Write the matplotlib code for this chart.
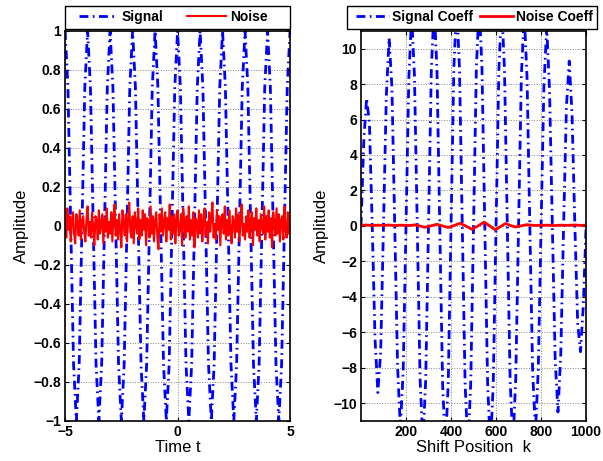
import numpy as np
import matplotlib
matplotlib.use("Agg")
import matplotlib.pyplot as plt
from matplotlib.patches import Rectangle

plt.rcParams['font.family'] = ['Liberation Sans', 'DejaVu Sans']
plt.rcParams['font.weight'] = 'bold'
plt.rcParams['axes.unicode_minus'] = True

# ---- left panel: time signal and additive noise ----
signal_t = np.linspace(-5, 5, 81)
signal_amp = [
    1.00, 0.71, 0.00, -0.71, -1.00, -0.71, 0.00, 0.71,
    1.00, 0.71, 0.00, -0.71, -1.00, -0.71, 0.00, 0.71,
    1.00, 0.71, 0.00, -0.71, -1.00, -0.71, 0.00, 0.71,
    1.00, 0.71, 0.00, -0.71, -1.00, -0.71, 0.00, 0.71,
    1.00, 0.71, 0.00, -0.71, -1.00, -0.71, 0.00, 0.71,
    1.00, 0.71, 0.00, -0.71, -1.00, -0.71, 0.00, 0.71,
    1.00, 0.71, 0.00, -0.71, -1.00, -0.71, 0.00, 0.71,
    1.00, 0.71, 0.00, -0.71, -1.00, -0.71, 0.00, 0.71,
    1.00, 0.71, 0.00, -0.71, -1.00, -0.71, 0.00, 0.71,
    1.00, 0.71, 0.00, -0.71, -1.00, -0.71, 0.00, 0.71,
    1.00,
]

noise_amp = [
    0.04, -0.06, 0.09, -0.02, 0.05, -0.08, 0.03, 0.07, -0.04, -0.09, 0.06, 0.01, -0.05, 0.08, -0.07, 0.02, 0.05, -0.03, -0.08, 0.04,
    0.10, -0.05, 0.02, -0.06, 0.07, -0.02, -0.10, 0.05, 0.03, -0.07, 0.08, -0.04, 0.01, 0.06, -0.09, 0.04, -0.03, 0.09, -0.06, 0.02,
    -0.04, 0.07, -0.08, 0.05, 0.11, -0.05, 0.03, -0.07, 0.06, -0.02, -0.11, 0.08, 0.02, -0.05, 0.06, -0.08, 0.04, 0.12, -0.03, -0.06,
    0.05, -0.09, 0.07, 0.01, -0.04, 0.09, -0.07, 0.03, -0.05, 0.08, -0.02, 0.06, -0.10, 0.04, 0.02, -0.06, 0.10, -0.04, 0.05, -0.08,
    0.03, 0.07, -0.06, -0.12, 0.06, -0.03, 0.09, -0.05, 0.02, 0.07, -0.08, 0.04, -0.02, 0.11, -0.07, 0.05, -0.04, 0.06, -0.09, 0.03,
    0.08, -0.05, -0.02, 0.06, -0.10, 0.09, 0.01, -0.06, 0.05, -0.03, 0.10, -0.07, 0.03, -0.05, 0.07, -0.11, 0.04, 0.02, -0.06, 0.08,
    -0.04, 0.06, -0.08, 0.03, 0.09, -0.05, 0.02, -0.09, 0.07, -0.03, 0.05, 0.12, -0.06, 0.01, -0.07, 0.08, -0.02, 0.05, -0.10, 0.04,
    0.06, -0.04, 0.10, -0.07, 0.03, -0.05, 0.08, -0.02, -0.09, 0.05, 0.02, -0.06, 0.09, -0.03, 0.06, -0.08, 0.04, 0.11, -0.05, 0.01,
    -0.07, 0.05, -0.03, 0.08, -0.06, 0.02, 0.07, -0.10, 0.04, -0.02, 0.09, -0.05, 0.03, -0.08, 0.06, 0.01, -0.04, 0.10, -0.07, 0.05,
    -0.03, 0.08, -0.06, 0.04, -0.11, 0.07, 0.02, -0.05, 0.09, -0.04, 0.06, -0.08, 0.03, 0.05, -0.07, 0.10, -0.02, -0.06, 0.07, -0.04,
    0.05,
]
noise_t = np.linspace(-5, 5, len(noise_amp))

# ---- right panel: coefficients vs shift position ----
coeff_k = np.linspace(0, 1000, 81)
signal_coeff = [
    0.0, 4.8, 7.2, 5.8, 0.0, -6.4, -9.4, -7.1,
    0.0, 7.3, 10.6, 7.8, 0.0, -7.9, -11.4, -8.2,
    0.0, 8.3, 11.9, 8.5, 0.0, -8.6, -12.2, -8.7,
    0.0, 8.8, 12.4, 8.8, 0.0, -8.9, -12.5, -8.9,
    0.0, 8.9, 12.5, 8.9, 0.0, -8.9, -12.5, -8.9,
    0.0, 8.9, 12.5, 8.9, 0.0, -8.9, -12.5, -8.9,
    0.0, 8.8, 12.4, 8.8, 0.0, -8.7, -12.3, -8.6,
    0.0, 8.5, 12.0, 8.4, 0.0, -8.2, -11.6, -8.1,
    0.0, 7.9, 11.2, 7.7, 0.0, -7.5, -10.5, -7.2,
    0.0, 6.7, 9.3, 6.3, 0.0, -5.5, -7.1, -4.5,
    0.0,
]

noise_k = [1, 25, 50, 75, 100, 125, 150, 175, 200, 215, 240, 262, 285, 310, 337, 362,
           387, 413, 440, 466, 492, 520, 547, 572, 596, 620, 641, 663, 685, 710, 737,
           765, 797, 830, 860, 890, 920, 950, 975, 1000]
noise_coeff = [0.03, 0.05, 0.02, 0.04, 0.03, 0.05, 0.02, 0.04, 0.03, 0.02, 0.06, -0.01,
               -0.08, 0.00, 0.09, 0.00, -0.09, 0.02, 0.15, -0.01, -0.19, 0.00, 0.21, 0.00,
               -0.22, -0.04, 0.13, 0.03, -0.06, 0.00, 0.07, 0.03, 0.03, 0.04, 0.02, 0.04,
               0.03, 0.05, 0.03, 0.04]

left_yticks = [-1, -0.8, -0.6, -0.4, -0.2, 0, 0.2, 0.4, 0.6, 0.8, 1]
left_ylabels = ['\u22121', '\u22120.8', '\u22120.6', '\u22120.4', '\u22120.2', '0',
                '0.2', '0.4', '0.6', '0.8', '1']
left_xticks = [-5, 0, 5]
left_xlabels = ['\u22125', '0', '5']
right_yticks = [-10, -8, -6, -4, -2, 0, 2, 4, 6, 8, 10]
right_ylabels = ['\u221210', '\u22128', '\u22126', '\u22124', '\u22122', '0',
                 '2', '4', '6', '8', '10']
right_xticks = [200, 400, 600, 800, 1000]
right_xlabels = ['200', '400', '600', '800', '1000']

BLUE = '#0000ff'
RED = '#ff0000'
DASHDOT = (0, (3.2, 1.6, 0.6, 1.6))
TICKFONT = {'fontweight': 'bold', 'fontsize': 10}

fig = plt.figure(figsize=(6.03, 4.61), dpi=100)
ax1 = fig.add_axes([0.108, 0.087, 0.373, 0.846])
ax2 = fig.add_axes([0.599, 0.087, 0.373, 0.846])


def style_axes(ax):
    ax.grid(True, linestyle=':', color='#808080', linewidth=0.7)
    ax.tick_params(direction='in', length=3, width=0.8, top=True, right=True, pad=3)
    for sp in ax.spines.values():
        sp.set_linewidth(1.2)


def boxed_legend(ax, x0, x1, cx, **kw):
    # MATLAB-style legend box sitting just above the axes
    ax.add_patch(Rectangle((x0, 1.006), x1 - x0, 0.058, transform=ax.transAxes,
                           facecolor='white', edgecolor='black', linewidth=1.0,
                           clip_on=False, zorder=5))
    leg = ax.legend(loc='center', bbox_to_anchor=(cx, 1.035), ncol=2, frameon=False,
                    borderpad=0, borderaxespad=0, prop={'weight': 'bold', 'size': 10}, **kw)
    leg.set_zorder(6)
    return leg


style_axes(ax1)
ax1.plot(signal_t, signal_amp, color=BLUE, linewidth=2.0, linestyle=DASHDOT, label='Signal')
ax1.plot(noise_t, noise_amp, color=RED, linewidth=1.5, label='Noise')
ax1.set_xlim(-5, 5)
ax1.set_ylim(-1, 1)
ax1.set_xticks(left_xticks, left_xlabels, **TICKFONT)
ax1.set_yticks(left_yticks, left_ylabels, **TICKFONT)
ax1.set_xlabel('Time t', fontsize=12, fontweight='normal', labelpad=1)
ax1.set_ylabel('Amplitude', fontsize=12, fontweight='normal', labelpad=3)
boxed_legend(ax1, 0.0, 1.0, 0.482, handlelength=2.75, handletextpad=0.35, columnspacing=1.7)

style_axes(ax2)
ax2.plot(coeff_k, signal_coeff, color=BLUE, linewidth=2.0, linestyle=DASHDOT, label='Signal Coeff')
ax2.plot(noise_k, noise_coeff, color=RED, linewidth=2.0, label='Noise Coeff')
ax2.set_xlim(1, 1000)
ax2.set_ylim(-11, 11)
ax2.set_xticks(right_xticks, right_xlabels, **TICKFONT)
ax2.set_yticks(right_yticks, right_ylabels, **TICKFONT)
ax2.set_xlabel('Shift Position  k', fontsize=12, fontweight='normal', labelpad=1)
ax2.set_ylabel('Amplitude', fontsize=12, fontweight='normal', labelpad=3)
boxed_legend(ax2, -0.062, 1.111 - 0.062, 0.502, handlelength=2.4, handletextpad=0.2,
             columnspacing=0.5)

fig.savefig('out.png', dpi=100)
plt.close(fig)
